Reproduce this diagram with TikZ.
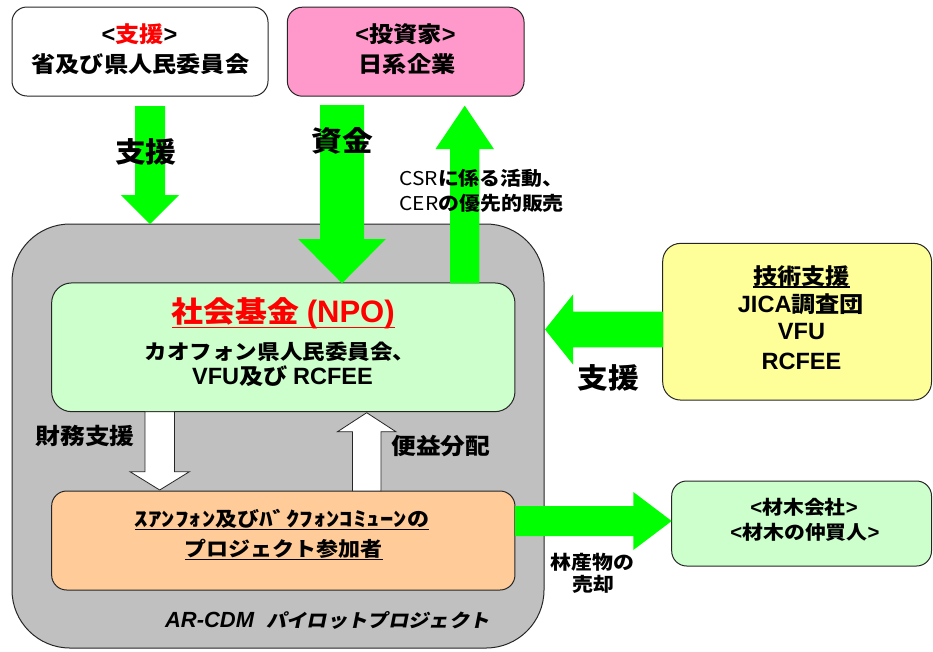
\documentclass[tikz,border=0pt]{standalone}
\usepackage{fontspec}
\setmainfont{Noto Sans CJK JP}[FakeStretch=1.1]
\newfontfamily\lat{Liberation Sans}[Scale=1.07]
\newfontfamily\jpsl{Noto Sans CJK JP}[FakeSlant=0.2,FakeStretch=1.1]
\usetikzlibrary{calc}
\definecolor{grn}{HTML}{00FF00}
\definecolor{pinkbox}{HTML}{FF99CC}
\definecolor{lgreen}{HTML}{CCFFCC}
\definecolor{orangebox}{HTML}{FFCC99}
\definecolor{yellowbox}{HTML}{FFFF99}
\definecolor{greybox}{HTML}{C0C0C0}
\newcommand\fs[1]{\fontsize{#1}{#1}\selectfont}
\newcommand\myul[2][3.5pt]{\setbox0\hbox{#2}\rlap{\smash{\rule[-#1]{\wd0}{1.5pt}}}\box0}
% style, from, to, half shaft, half head, head length
\newcommand\blockarrow[6]{%
  \coordinate (bah) at ($(#3)!#6!(#2)$);
  \path[#1] ($(#2)!#4!90:(#3)$) -- ($(bah)!#4!90:(#3)$) -- ($(bah)!#5!90:(#3)$) -- (#3)
    -- ($(bah)!#5!-90:(#3)$) -- ($(bah)!#4!-90:(#3)$) -- ($(#2)!#4!-90:(#3)$) -- cycle;
}
\begin{document}
\begin{tikzpicture}[x=1pt,y=-1pt,
  box/.style={draw=black!85, line width=1pt, rounded corners=15pt, inner sep=0pt},
  lbl/.style={inner sep=0pt, font=\bfseries},
  garrow/.style={fill=grn},
  warrow/.style={fill=white, draw=black!85, line width=0.8pt, line join=miter}]
\useasboundingbox (0,0) rectangle (933,651);

% boxes
\node[box, fill=greybox, rounded corners=58pt, minimum width=532pt, minimum height=424pt] (grey) at (278,436) {};
\node[box, fill=lgreen, rounded corners=20pt, minimum width=463.3pt, minimum height=128.7pt] (npo) at (283.3,347.3) {};
\node[box, fill=orangebox, minimum width=463.3pt, minimum height=99pt] (org) at (283.3,540.5) {};
\node[box, fill=white, minimum width=256pt, minimum height=89pt] (tl) at (140,51.5) {};
\node[box, fill=pinkbox, minimum width=236.7pt, minimum height=89pt] (pk) at (405.7,51.7) {};
\node[box, fill=yellowbox, rounded corners=18pt, minimum width=268.8pt, minimum height=156.7pt] (yel) at (797.1,321.7) {};
\node[box, fill=lgreen, minimum width=259.8pt, minimum height=85pt] (mat) at (801.6,523.5) {};

% arrow end points
\coordinate (s1) at (150,106);     \coordinate (e1) at (150,224);
\coordinate (s2) at (342,105);     \coordinate (e2) at (342,283.3);
\coordinate (s3) at (464.7,283);   \coordinate (e3) at (464.7,105.7);
\coordinate (s4) at (663,329.5);   \coordinate (e4) at (545,329.5);
\coordinate (s5) at (515,521);     \coordinate (e5) at (671.7,521);
\coordinate (s6) at (159.7,411.7); \coordinate (e6) at (159.7,490);
\coordinate (s7) at (366.7,491);   \coordinate (e7) at (366.7,412.7);

\blockarrow{garrow}{s1}{e1}{15pt}{29.2pt}{29pt}
\blockarrow{garrow}{s2}{e2}{22pt}{43.8pt}{44.3pt}
\blockarrow{garrow}{s3}{e3}{14.7pt}{29.2pt}{43.3pt}
\blockarrow{garrow}{s4}{e4}{17.8pt}{35pt}{28pt}
\blockarrow{garrow}{s5}{e5}{15pt}{29pt}{38.4pt}
\blockarrow{warrow}{s6}{e6}{14.7pt}{29.7pt}{18.3pt}
\blockarrow{warrow}{s7}{e7}{14.3pt}{29.2pt}{19pt}

% texts in boxes
\begin{scope}[every node/.style={lbl}]
\node[font=\bfseries\fs{22}] (tl1) at (139.5,34) {{\lat<}\textcolor{red}{支援}{\lat>}};
\node[font=\bfseries\fs{22}] (tl2) at (140.3,64) {省及び県人民委員会};
\node[font=\bfseries\fs{22}] (pk1) at (405.5,34) {{\lat<}投資家{\lat>}};
\node[font=\bfseries\fs{22}] (pk2) at (407,64) {日系企業};

\node[font=\bfseries\fs{29}, text=red] (np1) at (283.3,313) {\myul[6pt]{社会基金 {\lat(NPO)}}};
\node[font=\bfseries\fs{20.5}] (np2) at (280,352) {カオフォン県人民委員会、};
\node[font=\bfseries\fs{22}] (np3) at (282.5,376.5) {{\lat VFU}及び {\lat RCFEE}};

\node[font=\bfseries\fs{20}] (or1) at (282,519) {\myul{\scalebox{1.22}[1]{ｽｱﾝﾌｫﾝ}及び\scalebox{1.22}[1]{ﾊﾞｸﾌｫﾝｺﾐｭｰﾝ}の}};
\node[font=\bfseries\fs{20}] (or2) at (283.8,549) {\myul{プロジェクト参加者}};
\node[font=\bfseries\fs{18.5}] (ar) at (327.5,620) {{\lat\itshape\fs{20.5}AR-CDM}\hspace{12pt}{\jpsl\bfseries パイロットプロジェクト}};

\node[font=\bfseries\fs{22}] (y1) at (801.5,276) {\myul{技術支援}};
\node[font=\bfseries\fs{22}] (y2) at (801,304) {{\lat JICA}調査団};
\node[font=\bfseries\fs{22}] (y3) at (801.5,332) {\lat VFU};
\node[font=\bfseries\fs{22}] (y4) at (801.5,361) {\lat RCFEE};

\node[font=\bfseries\fs{19}] (m1) at (804,507.5) {{\lat<}材木会社{\lat>}};
\node[font=\bfseries\fs{19}] (m2) at (805,532.5) {{\lat<}材木の仲買人{\lat>}};

% arrow labels
\node[font=\bfseries\fs{28}] (l1) at (145.8,151.7) {支援};
\node[font=\bfseries\fs{28}] (l2) at (342.7,141) {資金};
\node[font=\bfseries\fs{19}, anchor=west] (l3a) at (399.3,178) {{\mdseries CSR}に係る活動、};
\node[font=\bfseries\fs{19}, anchor=west] (l3b) at (399.3,203.5) {{\mdseries CER}の優先的販売};
\node[font=\bfseries\fs{28}] (l4) at (608,377.5) {支援};
\node[font=\bfseries\fs{22.5}] (l6) at (85,436) {財務支援};
\node[font=\bfseries\fs{22.5}] (l7) at (440.8,446) {便益分配};
\node[font=\bfseries\fs{19}] (l5a) at (592.5,562.5) {林産物の};
\node[font=\bfseries\fs{19}] (l5b) at (593,584) {売却};
\end{scope}
\end{tikzpicture}
\end{document}
